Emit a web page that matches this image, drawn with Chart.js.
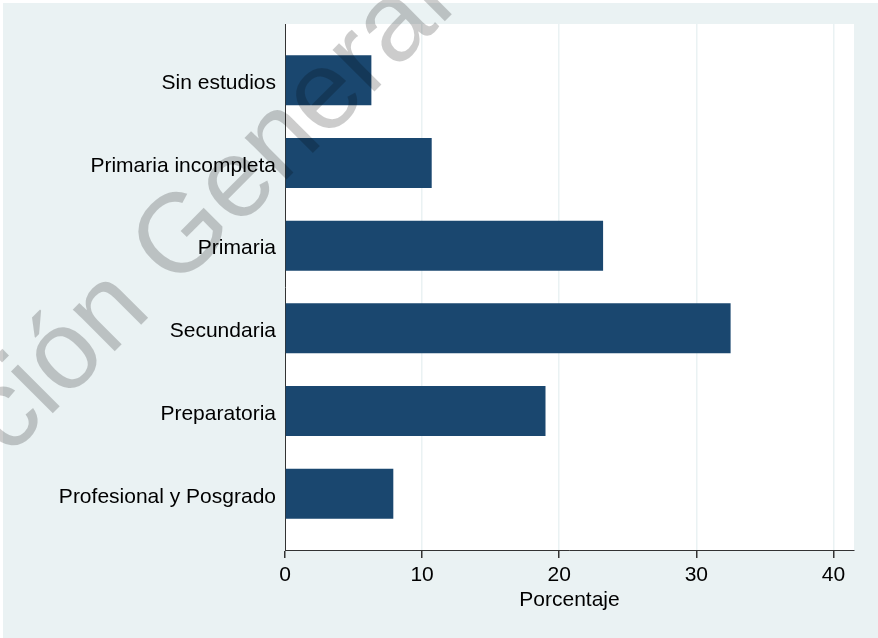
<!DOCTYPE html>
<html><head><meta charset="utf-8">
<script src="https://cdn.jsdelivr.net/npm/chart.js@4.4.1/dist/chart.umd.min.js"></script>
<style>
html,body{margin:0;padding:0;background:#fff;overflow:hidden;}
#wrap{position:absolute;left:0;top:0;width:878px;height:638px;}
</style>
</head><body><div id="wrap"><canvas id="c"></canvas></div>
<script>
const categories = ["Sin estudios", "Primaria incompleta", "Primaria", "Secundaria", "Preparatoria", "Profesional y Posgrado"];
const values = [6.3, 10.7, 23.2, 32.5, 19.0, 7.9];
const xTicks = [0, 10, 20, 30, 40];
const xTitle = "Porcentaje";
const watermarkText = "ción General";

const FONT = '"Liberation Sans", Arial, Helvetica, sans-serif';
const OUTER = '#EAF2F3';
const NAVY = '#1A476F';

const bgPlugin = {
  id: 'bg',
  beforeDraw(chart) {
    const {ctx, chartArea: a, width, height} = chart;
    ctx.save();
    ctx.fillStyle = '#ffffff';
    ctx.fillRect(0, 0, width, height);
    ctx.fillStyle = OUTER;
    ctx.fillRect(3, 3, width - 3, height - 3);
    ctx.fillStyle = '#ffffff';
    ctx.fillRect(a.left, a.top, a.right - a.left, a.bottom - a.top);
    ctx.restore();
  }
};

const wmPlugin = {
  id: 'wm',
  afterDraw(chart) {
    const ctx = chart.ctx;
    ctx.save();
    ctx.translate(8, 458);
    ctx.rotate(-45 * Math.PI / 180);
    ctx.font = '112px ' + FONT;
    ctx.fillStyle = 'rgba(0,0,0,0.2)';
    ctx.textBaseline = 'alphabetic';
    ctx.fillText(watermarkText, 0, 0);
    ctx.restore();
  }
};

new Chart(document.getElementById('c'), {
  type: 'bar',
  data: {
    datasets: [{
      data: categories.map((c, i) => ({x: values[i], y: i})),
      backgroundColor: NAVY,
      borderWidth: 0,
      categoryPercentage: 1,
      barPercentage: 0.605
    }]
  },
  options: {
    indexAxis: 'y',
    responsive: true,
    maintainAspectRatio: false,
    animation: false,
    layout: {padding: {top: 24, right: 24, left: 0, bottom: 25}},
    plugins: {legend: {display: false}, tooltip: {enabled: false}},
    scales: {
      y: {
        type: 'linear',
        offset: false,
        min: -0.68, max: 5.68,
        reverse: true,
        afterBuildTicks: s => { s.ticks = categories.map((c, i) => ({value: i})); },
        afterFit: s => { s.width = 285; },
        grid: {display: false, drawTicks: false, offset: false},
        border: {display: true, color: '#333333', width: 1},
        ticks: {
          callback: v => categories[v],
          color: '#000', padding: 9, labelOffset: 3,
          font: {family: FONT, size: 21}
        }
      },
      x: {
        type: 'linear',
        min: 0, max: 41.5,
        afterBuildTicks: s => { s.ticks = xTicks.map(v => ({value: v})); },
        afterFit: s => { s.height = 63; },
        grid: {
          color: c => (c.tick && c.tick.value === 0) ? 'rgba(0,0,0,0)' : OUTER,
          lineWidth: 1.5,
          tickColor: '#333333', tickLength: 8, drawTicks: true
        },
        border: {display: true, color: '#333333', width: 1},
        ticks: {color: '#000', padding: 5, font: {family: FONT, size: 21}, maxRotation: 0},
        title: {display: true, text: xTitle, color: '#000', font: {family: FONT, size: 21}, padding: 0}
      }
    }
  },
  plugins: [bgPlugin, wmPlugin]
});
</script>
</body></html>
